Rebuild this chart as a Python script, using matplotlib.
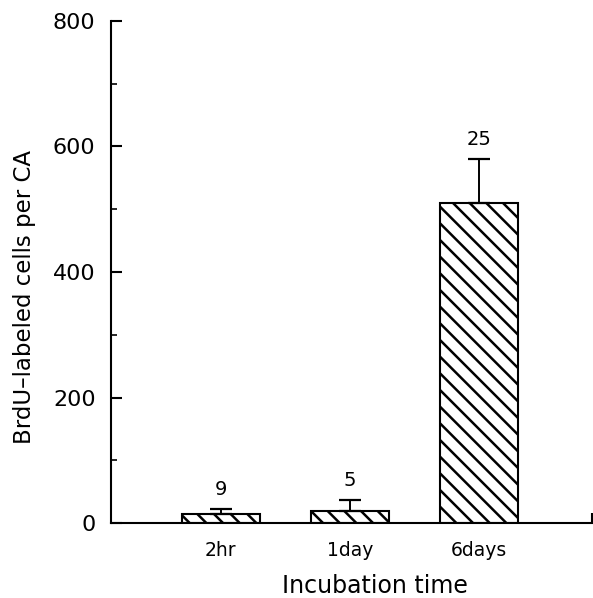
import numpy as np
import matplotlib.pyplot as plt

plt.rcParams['hatch.linewidth'] = 1.8

categories = ['2hr', '1day', '6days']
values = [14, 19, 510]
errors = [8, 18, 70]
n_counts = ['9', '5', '25']

fig = plt.figure(figsize=(5.93, 5.98), dpi=100)
ax = fig.add_axes([0.187, 0.1254, 0.811, 0.8395])

x = np.arange(1, len(categories) + 1)
ax.bar(x, values, width=0.6, color='white', edgecolor='black',
       linewidth=1.5, hatch='\\\\', zorder=2)
ax.errorbar(x, values, yerr=[np.zeros(len(errors)), errors], fmt='none',
            ecolor='black', elinewidth=1.4, capsize=8, capthick=1.6, zorder=3)
for xi, v, e, n in zip(x, values, errors, n_counts):
    ax.annotate(n, (xi, v + e), xytext=(0, 7), textcoords='offset points',
                ha='center', va='bottom', fontsize=14)

ax.set_xlim(0.147, 3.876)
ax.set_ylim(0, 800)
ax.set_yticks([0, 200, 400, 600, 800])
ax.set_yticks([100, 300, 500, 700], minor=True)
ax.set_xticks(x)
ax.set_xticklabels(categories, fontsize=13.5)
ax.set_xticks([3.876], minor=True)

ax.spines['top'].set_visible(False)
ax.spines['right'].set_visible(False)
ax.spines['left'].set_linewidth(1.5)
ax.spines['bottom'].set_linewidth(1.5)

ax.tick_params(axis='y', which='major', direction='in', length=8, width=1.5,
               labelsize=16, pad=11)
ax.tick_params(axis='y', which='minor', direction='in', length=4, width=1.2)
ax.tick_params(axis='x', which='major', length=0, pad=13)
ax.tick_params(axis='x', which='minor', direction='in', length=7, width=1.5)

ax.set_xlabel('Incubation time', fontsize=17, labelpad=10)
ax.set_ylabel('BrdU\u2013labeled cells per CA', fontsize=16.5, labelpad=12)
ax.xaxis.label.set_x(0.55)
ax.yaxis.label.set_y(0.45)

fig.savefig('out.png', dpi=100)
